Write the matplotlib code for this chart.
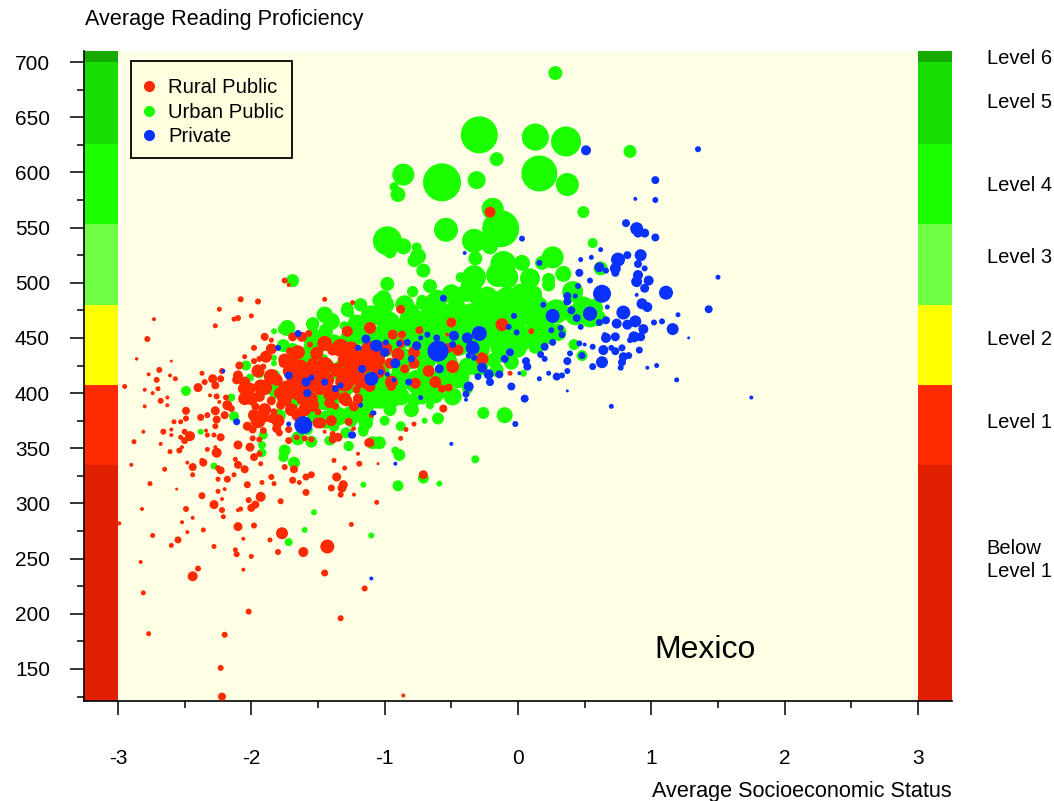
import matplotlib
matplotlib.use("Agg")
import matplotlib.pyplot as plt
from matplotlib.lines import Line2D
from matplotlib.patches import Rectangle

plt.rcParams["font.family"] = ["Liberation Sans", "DejaVu Sans"]

# ======================
# Data
# ======================

level_edges = [121, 335, 407, 480, 553, 626, 700, 710]
level_colors = ["#E02000", "#FF2A00", "#FFFF00", "#70FF45", "#1CFF00", "#18DD00", "#16AA00"]

level_labels = ["Level 6", "Level 5", "Level 4", "Level 3", "Level 2", "Level 1", "Below", "Level 1"]
level_label_y = [703.5, 663.5, 588, 523, 449, 373.5, 259.5, 238]

x_ticks = [-3, -2, -1, 0, 1, 2, 3]
y_ticks = [150, 200, 250, 300, 350, 400, 450, 500, 550, 600, 650, 700]

# SES, reading score and dot diameter of each school
rural_ses = [
    -2.08, -1.95, -1.45, -2.24, -2.73, -2.13, -2.10, -2.00, -2.27, -2.78,
    -2.86, -2.60, -2.69, -2.77, -2.61, -2.57, -2.71, -2.95, -2.80, -2.70,
    -2.74, -2.63, -2.68, -2.63, -2.80, -2.37, -2.40, -2.35, -2.29, -2.27,
    -2.22, -2.23, -2.31, -2.26, -2.19, -2.24, -2.18, -2.15, -2.49, -2.49,
    -2.38, -2.33, -2.27, -2.26, -2.20, -2.27, -2.58, -2.53, -2.60, -2.66,
    -2.81, -2.50, -2.60, -2.53, -2.46, -2.50, -2.34, -2.33, -2.28, -2.23,
    -2.88, -2.68, -2.61, -2.54, -2.52, -2.33, -2.27, -2.26, -2.10, -2.01,
    -1.98, -1.94, -2.12, -2.37, -2.36, -2.48, -2.44, -2.90, -2.65, -2.44,
    -2.25, -2.23, -2.10, -2.05, -1.93, -2.13, -2.18, -2.25, -2.76, -2.03,
    -1.92, -1.85, -1.83, -1.75, -1.68, -1.69, -1.64, -1.59, -1.55, -1.36,
    -1.31, -1.32, -1.40, -1.33, -1.23, -1.59, -1.78, -2.56, -2.37, -2.25,
    -2.20, -2.22, -2.28, -1.93, -2.02, -1.97, -2.00, -2.08, -2.10, -2.22,
    -2.21, -2.49, -2.82, -2.44, -2.52, -2.99, -2.36, -2.48, -2.10, -1.98,
    -2.74, -2.55, -2.60, -2.28, -2.06, -1.86, -1.77, -1.25, -1.06, -2.12,
    -2.11, -2.00, -1.80, -1.61, -1.43, -2.83, -2.06, -2.40, -2.44, -1.45,
    -2.81, -1.15, -2.02, -1.33, -2.77, -2.20, -2.23, -2.22, -0.86, -1.28,
    -1.11, -1.24, -1.90, -1.85, -1.69, -1.62, -1.57, -1.98, -1.89, -2.05,
    -1.94, -1.98, -1.91, -2.09, -2.10, -2.11, -2.06, -2.01, -1.93, -1.81,
    -1.74, -1.79, -1.76, -1.69, -1.65, -1.71, -1.56, -1.51, -1.54, -1.60,
    -1.63, -1.49, -1.43, -1.36, -1.33, -1.39, -1.30, -1.69, -1.21, -1.14,
    -1.09, -1.14, -1.04, -1.94, -2.04, -1.85, -1.78, -1.83, -1.97, -1.98,
    -1.89, -1.85, -2.03, -1.99, -1.99, -1.94, -1.91, -1.81, -1.79, -1.72,
    -1.72, -1.66, -1.60, -1.55, -1.50, -1.62, -1.54, -1.42, -1.37, -1.50,
    -1.28, -1.23, -1.20, -1.45, -1.39, -1.39, -1.35, -1.27, -1.24, -1.12,
    -1.20, -1.19, -1.05, -1.38, -1.30, -1.10, -0.88, -0.50, -0.12, 0.10,
    -0.74, -0.94, -0.87, -0.53, -0.78, -0.88, -1.12, -1.05, -0.96, -0.78,
    -0.85, -0.67, -0.49, -0.45, -0.52, -0.27, -0.77, -0.62, -0.57, -0.52,
    -0.95, -1.18, -1.11, -1.21, -1.20, -1.29, -1.23, -1.41, -1.48, -1.27,
    -0.56, -1.10, -0.78, -0.84, -0.88, -1.23, -0.06, -1.11, -0.71, -1.75,
    -1.72, -0.21,
    # dense middle of the rural cloud
    -1.85, -1.90, -1.70, -1.60, -1.55, -1.45, -1.40, -1.50, -1.30, -1.25,
    -1.75, -1.65, -1.20, -1.05, -1.95, -2.00, -1.90, -1.45, -1.25, -1.00,
    -1.30, -1.55, -1.70, -2.05, -1.40, -0.90, -2.05, -1.95, -1.80, -1.65,
    -1.15, -1.05, -0.95, -1.60, -1.75, -1.85,
]
rural_read = [
    485, 483, 485, 476, 467, 467, 468, 470, 461, 449,
    431, 429, 421, 417, 416, 413, 412, 406, 403, 404,
    400, 396, 393, 389, 388, 418, 405, 410, 413, 407,
    420, 413, 398, 397, 396, 392, 389, 386, 384, 377,
    378, 380, 384, 376, 380, 370, 374, 374, 367, 365,
    365, 365, 362, 360, 361, 357, 366, 362, 362, 360,
    356, 354, 347, 348, 351, 349, 351, 346, 353, 351,
    342, 345, 340, 339, 337, 337, 333, 335, 331, 326,
    332, 330, 335, 331, 336, 326, 322, 322, 318, 317,
    319, 324, 318, 333, 331, 321, 319, 324, 326, 324,
    317, 314, 314, 308, 308, 310, 302, 313, 307, 311,
    313, 304, 299, 306, 303, 299, 296, 295, 294, 294,
    288, 295, 295, 287, 283, 282, 276, 274, 279, 280,
    271, 267, 262, 261, 268, 267, 273, 281, 301, 258,
    254, 252, 256, 256, 261, 247, 240, 241, 234, 237,
    219, 223, 202, 196, 182, 181, 151, 125, 126, 456,
    459, 482, 451, 448, 451, 451, 454, 441, 433, 433,
    431, 429, 424, 425, 416, 412, 404, 404, 406, 412,
    404, 400, 427, 430, 437, 438, 444, 436, 427, 415,
    424, 404, 412, 421, 441, 439, 430, 410, 415, 410,
    430, 436, 439, 397, 400, 393, 389, 383, 388, 380,
    377, 377, 370, 367, 359, 358, 366, 368, 364, 367,
    357, 360, 359, 358, 373, 394, 389, 391, 388, 383,
    393, 388, 395, 365, 363, 358, 360, 374, 367, 355,
    345, 336, 336, 339, 332, 380, 476, 464, 462, 456,
    457, 453, 453, 453, 437, 445, 441, 430, 427, 427,
    422, 420, 424, 439, 441, 431, 409, 410, 404, 405,
    406, 412, 406, 403, 394, 393, 388, 391, 373, 374,
    386, 380, 372, 367, 359, 368, 418, 355, 326, 502,
    498, 564,
    415, 405, 420, 405, 420, 425, 400, 412, 410, 420,
    395, 400, 430, 420, 420, 395, 385, 445, 440, 440,
    395, 395, 385, 410, 375, 435, 395, 375, 375, 380,
    425, 435, 410, 385, 430, 440,
]
rural_size = [
    5, 5, 4, 4, 3, 4, 5, 4, 4, 5,
    2.5, 2, 5, 3, 3, 4, 5, 4, 3, 4,
    3, 3, 5, 3, 3, 4, 8, 5, 8, 7,
    5, 6, 3, 5, 5, 3, 9, 6, 7, 5,
    6, 5, 8, 7, 7, 5, 4, 4, 3, 5,
    3, 5, 3, 4, 9, 6, 3, 4, 4, 7,
    4, 3, 4, 5, 3, 4, 3, 9, 8, 8,
    7, 5, 4, 4, 7, 3, 7, 3, 4, 4,
    5, 7, 7, 7, 4, 4, 6, 4, 4, 6,
    4, 5, 4, 5, 7, 6, 4, 6, 6, 8,
    8, 8, 6, 5, 3, 6, 5, 2, 6, 4,
    3, 3, 8, 9, 5, 7, 7, 4, 3, 5,
    4, 5, 3, 3, 3, 3, 4, 3, 8, 5,
    4, 6, 4, 4, 3, 4, 11, 4, 4, 4,
    5, 4, 5, 9, 13, 3, 3, 5, 9, 6,
    4, 5, 5, 5, 4, 5, 5, 7, 3, 10,
    11, 4, 7, 4, 8, 9, 6, 5, 11, 4,
    5, 5, 5, 7, 9, 8, 10, 11, 13, 11,
    15, 10, 8, 10, 13, 7, 5, 12, 10, 17,
    13, 12, 13, 13, 17, 10, 13, 12, 15, 13,
    13, 13, 12, 10, 7, 8, 8, 6, 7, 11,
    6, 8, 8, 7, 5, 5, 6, 8, 6, 6,
    6, 5, 5, 5, 10, 10, 12, 8, 6, 6,
    9, 7, 9, 3, 5, 7, 8, 6, 3, 8,
    3, 5, 2, 4, 4, 4, 8, 9, 12, 5,
    7, 9, 7, 3, 11, 8, 13, 13, 10, 10,
    8, 11, 12, 10, 9, 12, 10, 11, 7, 7,
    8, 15, 10, 7, 9, 10, 9, 9, 10, 7,
    7, 4, 4, 4, 4, 3, 4, 8, 8, 5,
    3, 10,
    14, 14, 16, 18, 18, 16, 16, 16, 18, 16,
    14, 14, 16, 14, 12, 12, 12, 14, 14, 14,
    12, 12, 12, 10, 10, 12, 12, 14, 12, 12,
    14, 14, 12, 12, 12, 10,
]

urban_ses = [
    0.28, -0.29, 0.13, 0.36, -0.16, 0.84, -0.86, -0.57, -0.31, 0.16,
    0.37, -0.93, -0.90, 0.49, -0.19, -0.13, -0.54, -0.33, -0.98, -0.86,
    -0.96, -0.76, -0.75, -0.78, -0.71, 0.56, -0.21, -0.32, -0.11, 0.03,
    0.26, 0.18, 0.34, -0.33, -0.43, -0.15, -0.08, 0.09, 0.23, 0.23,
    -0.66, -0.98, -0.79, 0.41, 0.62, -1.01, -0.41, -0.31, -0.22, -0.13,
    0.02, 0.12, -0.63, -0.72, -1.01, -0.79, -0.66, -0.72, -0.80, -0.60,
    -0.46, -0.38, -0.23, -0.08, 0.07, -0.28, -0.13, 0.02, 0.12, 0.29,
    -0.21, -0.03, 0.12, -0.13, 0.02, 0.17, -0.38, -0.53, -0.68, -0.83,
    -0.97, -1.01, -1.21, -1.45, -1.28, -1.18, -1.54, -1.43, -1.31, -1.38,
    -1.53, -1.48, -1.26, -1.00, -0.68, -0.53, -0.38, -0.28, -0.16, -0.43,
    -0.49, -0.63, -0.78, -0.72, -0.88, -1.03, -0.96, -1.00, -1.13, -1.16,
    -1.29, -1.13, -1.36, -1.53, -1.38, -1.56, -1.58, -0.88, -0.98, -0.26,
    -0.10, -0.60, -0.66, -0.70, -0.88, -1.04, -1.27, -1.41, -0.92, -0.89,
    -0.32, -0.90, -0.59, -1.16, -0.71, 0.48, 0.42, 0.04, -0.38, 0.49,
    0.54, 0.42, 0.28, 0.43, 0.57, 0.60, 0.22, 0.13, 0.09, 0.13,
    -1.18, -1.28, -1.26, -1.45, -1.44, -1.54, -1.73, -1.76, -1.83, -1.69,
    -1.30, -1.22, -1.76, -1.69, -1.51, -1.39, -1.83, -1.83, -2.04, -1.94,
    -2.01, -1.83, -2.49, -2.15, -2.13, -2.38, -2.28, -1.92, -1.92, -1.75,
    -1.76, -1.68, -1.91, -1.79, -1.69, -1.81, -1.65, -1.55, -1.42, -1.27,
    -1.16, -1.29, -1.44, -1.34, -1.39, -1.25, -1.14, -1.09, -1.29, -1.36,
    -1.16, -1.06, -1.16, -1.04, -1.16, -1.05, -1.53, -1.60, -1.72, -1.10,
    -1.65,
    # dense middle of the urban band
    -0.90, -0.75, -0.60, -0.45, -0.30, -0.15, -0.20, -0.35, -0.50, -0.65,
    -0.80, -0.95, -1.10, -1.20, -1.05, -0.90, -0.75, -0.60, -0.45, -0.30,
    -0.70, -0.55, -0.85, -1.00, -1.15, -1.30, -1.45, -1.60, -1.55, -1.45,
    -1.25, -1.15, -0.95, -0.80, 0.10, 0.00, 0.20, 0.30, 0.05, -0.10,
    -0.25, -0.60, -0.85, -0.50, -0.35, 0.15, -0.18, -0.05, -1.10, -1.25,
    -1.40, -1.00, -1.55,
]
urban_read = [
    690, 634, 632, 628, 612, 619, 598, 591, 593, 599,
    589, 587, 580, 564, 567, 549, 548, 538, 538, 533,
    528, 532, 524, 520, 511, 536, 533, 522, 517, 518,
    523, 518, 508, 505, 505, 507, 505, 504, 503, 498,
    497, 499, 492, 492, 513, 486, 490, 487, 487, 486,
    490, 490, 484, 484, 484, 492, 480, 481, 475, 472,
    478, 489, 487, 487, 487, 472, 472, 472, 469, 474,
    454, 454, 457, 442, 445, 444, 460, 460, 460, 460,
    463, 472, 463, 471, 475, 480, 463, 456, 461, 445,
    441, 428, 448, 442, 442, 427, 424, 439, 421, 412,
    397, 400, 394, 397, 397, 394, 385, 375, 388, 365,
    364, 373, 382, 379, 370, 388, 367, 421, 412, 382,
    380, 377, 389, 375, 370, 355, 352, 357, 348, 344,
    340, 316, 318, 317, 323, 434, 444, 418, 404, 478,
    469, 487, 475, 471, 477, 468, 454, 487, 469, 442,
    480, 477, 472, 471, 457, 462, 459, 458, 456, 502,
    461, 462, 443, 439, 448, 445, 432, 427, 425, 418,
    414, 416, 402, 396, 379, 365, 334, 353, 346, 348,
    342, 337, 362, 380, 392, 403, 424, 356, 357, 352,
    367, 364, 376, 379, 388, 374, 373, 355, 406, 397,
    400, 391, 457, 484, 418, 403, 292, 276, 265, 271,
    359,
    450, 450, 450, 445, 445, 455, 465, 470, 470, 470,
    468, 452, 450, 430, 420, 410, 410, 410, 415, 425,
    430, 435, 430, 405, 395, 420, 420, 430, 405, 395,
    380, 380, 395, 385, 450, 440, 465, 455, 480, 480,
    478, 485, 480, 490, 498, 478, 430, 428, 470, 455,
    465, 480, 450,
]
urban_size = [
    13, 36, 26, 29, 13, 12, 21, 37, 17, 35,
    22, 8, 14, 11, 21, 36, 23, 23, 28, 15,
    12, 9, 15, 12, 13, 9, 15, 13, 25, 15,
    21, 13, 15, 23, 9, 23, 21, 19, 12, 12,
    13, 13, 10, 20, 13, 15, 15, 15, 15, 15,
    19, 15, 15, 10, 16, 10, 17, 11, 13, 23,
    17, 13, 20, 20, 23, 20, 23, 23, 20, 23,
    23, 27, 17, 20, 17, 13, 23, 23, 23, 20,
    23, 15, 17, 15, 12, 12, 12, 10, 7, 17,
    20, 17, 20, 20, 20, 20, 17, 17, 13, 13,
    17, 20, 13, 15, 17, 17, 12, 9, 13, 9,
    9, 9, 13, 13, 10, 17, 10, 17, 13, 11,
    15, 11, 7, 5, 9, 12, 9, 9, 7, 11,
    7, 10, 5, 5, 10, 10, 10, 6, 10, 20,
    20, 10, 20, 20, 17, 15, 20, 13, 17, 13,
    12, 11, 7, 15, 13, 12, 15, 10, 5, 12,
    8, 9, 12, 13, 20, 17, 5, 5, 9, 9,
    7, 11, 9, 7, 9, 5, 6, 7, 8, 11,
    9, 11, 8, 12, 13, 17, 13, 11, 8, 9,
    10, 10, 17, 17, 13, 10, 13, 12, 17, 12,
    13, 10, 20, 13, 17, 17, 5, 5, 7, 5,
    13,
    24, 26, 26, 24, 24, 26, 24, 24, 24, 22,
    22, 22, 24, 22, 22, 22, 24, 22, 22, 20,
    22, 22, 22, 20, 20, 24, 24, 22, 20, 22,
    18, 18, 18, 14, 18, 16, 20, 16, 24, 24,
    22, 18, 18, 18, 20, 20, 14, 14, 20, 18,
    16, 18, 16,
]

private_ses = [
    -1.65, -1.80, -2.21, -2.11, -1.72, -1.59, -1.55, -1.45, -1.58, -1.37,
    -1.33, -1.17, -1.14, -1.20, -1.07, -1.10, -1.18, -1.09, -1.61, -1.72,
    -1.25, -1.10, -0.56, -0.60, -0.29, 0.26, 0.54, -0.03, 0.19, -0.07,
    -0.01, -0.38, -0.48, -0.34, -0.61, -0.68, -0.73, -0.49, -0.76, -0.83,
    -0.89, -0.99, -1.06, -1.00, -1.19, -0.92, -0.80, -1.03, -0.98, -0.93,
    -0.82, -0.73, -1.08, -1.24, -0.59, -0.37, -0.33, -0.27, -0.22, -0.30,
    -0.21, -0.37, -0.39, -0.39, -0.14, 0.01, -0.10, -0.06, 0.06, 0.07,
    -0.05, 0.05, -0.02, -0.50, -0.92, 0.37, 0.16, 0.23, 0.29, 0.33,
    0.37, 0.17, 0.20, 0.20, 0.26, 0.25, 0.32, 0.33, 0.44, 0.40,
    0.47, 0.37, 0.37, 0.43, 0.39, 0.37, 0.56, 0.50, 0.46, 0.56,
    0.48, 0.81, 0.89, 0.90, 0.95, 1.03, 0.62, 0.47, 0.55, 0.16,
    0.46, 0.54, 0.61, 0.66, 0.75, 0.73, 0.73, 0.82, 0.92, 0.90,
    0.95, 0.90, 0.89, 0.98, 0.95, 0.45, 0.63, 1.11, 0.89, 0.93,
    0.97, 1.50, 1.43, 1.20, 1.16, 1.28, 1.08, 1.02, 0.79, 0.67,
    0.88, 0.82, 0.74, 0.94, 0.87, 0.92, 0.84, 0.66, 0.65, 0.73,
    0.78, 0.70, 0.73, 0.91, 0.64, 0.61, 0.66, 0.54, 0.63, 0.79,
    0.83, 0.78, 0.77, 1.04, 0.97, 1.19, 0.70, 1.75, 0.51, 1.35,
    1.03, 0.88, 1.03, 0.03, -0.40,
]
private_read = [
    454, 441, 420, 374, 416, 410, 414, 410, 400, 404,
    407, 422, 449, 441, 443, 413, 389, 382, 371, 372,
    362, 232, 486, 438, 454, 470, 472, 470, 480, 460,
    455, 450, 452, 441, 450, 453, 450, 444, 443, 446,
    445, 446, 443, 437, 441, 427, 431, 419, 417, 412,
    410, 396, 382, 362, 422, 434, 432, 423, 417, 415,
    410, 406, 399, 394, 417, 418, 431, 437, 429, 424,
    406, 395, 372, 354, 336, 402, 413, 418, 415, 416,
    420, 435, 431, 442, 446, 457, 459, 453, 468, 475,
    460, 483, 488, 488, 436, 429, 424, 444, 445, 442,
    434, 554, 549, 545, 545, 541, 530, 521, 523, 518,
    509, 502, 514, 511, 521, 513, 509, 525, 525, 517,
    513, 507, 501, 502, 495, 497, 490, 491, 489, 481,
    478, 505, 476, 471, 458, 450, 465, 464, 473, 478,
    465, 462, 463, 458, 451, 451, 448, 450, 453, 451,
    441, 441, 438, 439, 439, 464, 466, 472, 428, 433,
    434, 428, 423, 425, 423, 412, 388, 396, 620, 621,
    593, 576, 575, 540, 527,
]
private_size = [
    6, 5, 3, 6, 7, 8, 5, 6, 7, 6,
    5, 7, 8, 5, 10, 13, 4, 4, 17, 4,
    6, 3, 6, 20, 14, 13, 13, 5, 5, 5,
    5, 10, 9, 13, 6, 5, 4, 6, 8, 6,
    5, 5, 11, 8, 4, 9, 6, 5, 4, 4,
    6, 4, 4, 6, 8, 5, 5, 9, 9, 6,
    7, 9, 6, 3, 7, 3, 7, 7, 7, 7,
    7, 7, 5, 3, 3, 2, 4, 4, 7, 5,
    5, 6, 5, 7, 6, 5, 5, 6, 7, 7,
    5, 7, 7, 4, 5, 7, 6, 3, 5, 5,
    6, 7, 12, 8, 8, 7, 4, 4, 4, 5,
    7, 5, 9, 5, 13, 10, 7, 7, 11, 7,
    5, 9, 10, 9, 8, 5, 17, 13, 3, 10,
    9, 4, 7, 4, 11, 2, 5, 5, 13, 4,
    11, 9, 9, 9, 10, 8, 5, 9, 4, 8,
    6, 5, 7, 6, 9, 6, 7, 13, 11, 8,
    6, 7, 5, 4, 3, 4, 4, 3, 9, 5,
    7, 3, 5, 5, 3,
]

series = [
    ("Urban Public", urban_ses, urban_read, urban_size, "#1CFF00"),
    ("Rural Public", rural_ses, rural_read, rural_size, "#FF2A00"),
    ("Private", private_ses, private_read, private_size, "#0A32FF"),
]

# ======================
# Plot
# ======================

fig = plt.figure(figsize=(10.54, 8.01), dpi=100)
ax = fig.add_axes([84 / 1054, 1 - 701 / 801, 868 / 1054, 650 / 801])

ax.set_facecolor("#FFFFE6")

# proficiency bands on both sides
for i in range(len(level_colors)):
    ax.fill_between([-3.255, -3], level_edges[i], level_edges[i + 1],
                    color=level_colors[i], lw=0, zorder=1)
    ax.fill_between([3, 3.255], level_edges[i], level_edges[i + 1],
                    color=level_colors[i], lw=0, zorder=1)

# dots, size is the visible diameter in pixels at 100 dpi
for i, (name, ses, read, size, color) in enumerate(series):
    ax.scatter(ses, read, s=[((d + 1) * 0.72) ** 2 for d in size], color=color,
               linewidths=0, zorder=2 + i)

ax.spines["top"].set_visible(False)
ax.spines["right"].set_visible(False)
ax.spines["left"].set_linewidth(1.2)
ax.spines["bottom"].set_linewidth(1.2)

ax.set_xticks(x_ticks)
ax.set_yticks(y_ticks)
ax.set_xticks([t + 0.5 for t in x_ticks[:-1]], minor=True)
ax.set_yticks([t + 25 for t in y_ticks[:-1]] + [125], minor=True)
ax.tick_params(axis="both", which="major", length=10, width=1.1, labelsize=15)
ax.tick_params(axis="both", which="minor", length=5, width=1.1)
ax.tick_params(axis="x", which="major", pad=24.5)
ax.tick_params(axis="y", which="major", pad=14.5)
ax.set_xticklabels([str(t) for t in x_ticks])

ax.set_xlim(-3.255, 3.255)
ax.set_ylim(121, 710)

fig.text(85 / 1054, 1 - 19 / 801, "Average Reading Proficiency", fontsize=15.6,
         ha="left", va="center")
fig.text(952 / 1054, 1 - 792 / 801, "Average Socioeconomic Status", fontsize=15.6,
         ha="right", va="center")

ax.text(1.02, 167, "Mexico", fontsize=23, ha="left", va="center", zorder=6)

for label, y in zip(level_labels, level_label_y):
    ax.text(3.516, y, label, fontsize=14.5, ha="left", va="center", clip_on=False)

# legend box is drawn on its own so it can be taller than the legend rows
ax.add_patch(Rectangle((131 / 1054, 1 - 158 / 801), 161 / 1054, 97 / 801,
                       transform=fig.transFigure, facecolor="#FFFFE0",
                       edgecolor="black", lw=1.3, zorder=6))

handles = [
    Line2D([], [], marker="o", ls="", ms=8, mew=0, color=series[1][4], label=series[1][0]),
    Line2D([], [], marker="o", ls="", ms=8, mew=0, color=series[0][4], label=series[0][0]),
    Line2D([], [], marker="o", ls="", ms=8, mew=0, color=series[2][4], label=series[2][0]),
]
leg = ax.legend(handles=handles, loc="upper left",
                bbox_to_anchor=((131 - 84) / 868, (701 - 66) / 650),
                borderaxespad=0, frameon=False, fontsize=14.6,
                labelspacing=0.27, handletextpad=0.64, borderpad=0.6,
                handlelength=0.58)
leg.set_zorder(7)

fig.savefig("out.png", dpi=100)
